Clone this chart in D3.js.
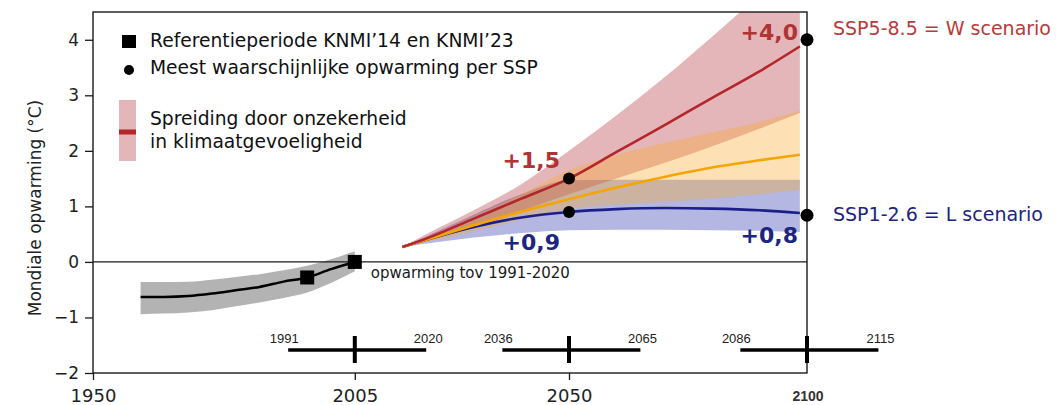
<!DOCTYPE html>
<html>
<head>
<meta charset="utf-8">
<script src="https://cdn.jsdelivr.net/npm/d3@7"></script>
<style>
  body { margin: 0; background: #fff; }
  svg { display: block; font-family: "DejaVu Sans", Verdana, sans-serif; }
</style>
</head>
<body>
<svg id="chart" width="1063" height="405"></svg>
<script>
// ---- Observed global warming (relative to 1991-2020), with spread ----
const histYears  = [1960, 1965, 1970, 1975, 1980, 1985, 1990, 1995, 2000, 2005];
const histMedian = [-0.63, -0.63, -0.615, -0.57, -0.51, -0.45, -0.355, -0.28, -0.13, 0.0];
const histLow    = [-0.94, -0.93, -0.91, -0.87, -0.80, -0.73, -0.65, -0.55, -0.38, -0.17];
const histHigh   = [-0.36, -0.36, -0.355, -0.32, -0.27, -0.22, -0.15, -0.07, 0.05, 0.19];

// Reference periods KNMI'14 (1981-2010) and KNMI'23 (1991-2020)
const refYears  = [1995, 2005];
const refValues = [-0.28, 0.0];

// ---- Projections per SSP ----
const projYears = [2015, 2020, 2030, 2040, 2050, 2060, 2070, 2080, 2090, 2098.5];
const ssp585Median = [0.27, 0.42, 0.78, 1.14, 1.50, 1.98, 2.46, 2.95, 3.43, 3.88];
const ssp585Low    = [0.27, 0.38, 0.62, 0.92, 1.22, 1.50, 1.78, 2.08, 2.40, 2.68];
const ssp585High   = [0.27, 0.50, 0.93, 1.40, 2.00, 2.64, 3.32, 4.05, 4.80, 5.40];
const ssp245Median = [0.27, 0.40, 0.66, 0.91, 1.13, 1.34, 1.53, 1.70, 1.83, 1.93];
const ssp245Low    = [0.27, 0.36, 0.55, 0.76, 0.95, 1.03, 1.08, 1.14, 1.22, 1.30];
const ssp245High   = [0.27, 0.44, 0.82, 1.22, 1.65, 1.93, 2.14, 2.33, 2.52, 2.72];
const ssp126Median = [0.27, 0.40, 0.63, 0.80, 0.90, 0.95, 0.97, 0.96, 0.93, 0.88];
const ssp126Low    = [0.27, 0.33, 0.44, 0.52, 0.57, 0.58, 0.58, 0.57, 0.56, 0.54];
const ssp126High   = [0.27, 0.46, 0.85, 1.22, 1.47, 1.48, 1.48, 1.48, 1.48, 1.48];

// Most likely warming at the scenario horizons
const keyYears  = [2050, 2100];
const ssp585Key = [1.5, 4.0];
const ssp126Key = [0.9, 0.84];

// 30-year climate periods around 2005, 2050 and 2100
const periodCenter = [2005, 2050, 2100];
const periodStart  = [1991, 2036, 2086];
const periodEnd    = [2020, 2065, 2115];

// Axis ticks
const xTickYears = [1950, 2005, 2050];
const xLastTick  = 2100;
const yTicks     = [-2, -1, 0, 1, 2, 3, 4];

// ---- Layout ----
const svg = d3.select("#chart");
const pLeft = 93, pRight = 807, pTop = 12, pBottom = 373;
const x = d3.scaleLinear().domain([1950, 2100]).range([pLeft, pRight]);
const y = d3.scaleLinear().domain([-2, 4.5]).range([pBottom, pTop]);

const col = {
  red: "#b3262b", redText: "#b03434", redLabel: "#b83a3a",
  orange: "#f5a500", navy: "#1b1f8a", navyText: "#1c2580",
  grey: "#b3b3b3", ink: "#1a1a1a"
};
// Translucent spreads: base colour and opacity
const spread = {
  red:    { fill: "rgb(180,40,50)",  op: 0.34 },
  orange: { fill: "rgb(250,170,40)", op: 0.35 },
  blue:   { fill: "rgb(40,50,170)",  op: 0.35 }
};

svg.append("defs").append("clipPath").attr("id", "plot")
  .append("rect").attr("x", pLeft).attr("y", pTop)
  .attr("width", pRight - pLeft).attr("height", pBottom - pTop);

const plot = svg.append("g").attr("clip-path", "url(#plot)");

const zip = (xs, lo, hi) => xs.map((v, i) => ({ year: v, lo: lo[i], hi: hi[i] }));
const pts = (xs, vs) => xs.map((v, i) => ({ year: v, value: vs[i] }));

const area = d3.area().curve(d3.curveMonotoneX)
  .x(d => x(d.year)).y0(d => y(d.lo)).y1(d => y(d.hi));
const line = d3.line().curve(d3.curveMonotoneX)
  .x(d => x(d.year)).y(d => y(d.value));

// Observed spread
plot.append("path").datum(zip(histYears, histLow, histHigh))
  .attr("d", area).attr("fill", col.grey);

// Projection spreads (SSP1-2.6 beneath, SSP2-4.5 on top)
[
  [ssp126Low, ssp126High, spread.blue],
  [ssp585Low, ssp585High, spread.red],
  [ssp245Low, ssp245High, spread.orange]
].forEach(([lo, hi, s]) => {
  plot.append("path").datum(zip(projYears, lo, hi))
    .attr("d", area).attr("fill", s.fill).attr("fill-opacity", s.op);
});

// Zero line
svg.append("line").attr("x1", pLeft).attr("x2", pRight)
  .attr("y1", y(0)).attr("y2", y(0)).attr("stroke", col.ink).attr("stroke-width", 1.3);

// Observed median
plot.append("path").datum(pts(histYears, histMedian))
  .attr("d", line).attr("fill", "none").attr("stroke", "#000").attr("stroke-width", 2.5);

// Projection medians
[
  [ssp126Median, col.navy],
  [ssp245Median, col.orange],
  [ssp585Median, col.red]
].forEach(([vals, c]) => {
  plot.append("path").datum(pts(projYears, vals))
    .attr("d", line).attr("fill", "none").attr("stroke", c).attr("stroke-width", 2.6);
});

// Frame
svg.append("rect").attr("x", pLeft).attr("y", pTop)
  .attr("width", pRight - pLeft).attr("height", pBottom - pTop)
  .attr("fill", "none").attr("stroke", col.ink).attr("stroke-width", 1.4);

// Reference squares
svg.selectAll(".ref").data(pts(refYears, refValues)).join("rect")
  .attr("x", d => x(d.year) - 7).attr("y", d => y(d.value) - 7)
  .attr("width", 14).attr("height", 14).attr("fill", "#000");

svg.append("text").attr("x", x(2005) + 16).attr("y", y(0) + 16)
  .attr("font-size", 15).attr("fill", col.ink).text("opwarming tov 1991-2020");

// Most likely warming dots and value labels
const fmt = v => "+" + d3.format(".1f")(v).replace(".", ",");
const keyDots = [
  ...pts(keyYears, ssp585Key).map(d => ({ ...d, color: col.redText, dy: [-11, 0] })),
  ...pts(keyYears, ssp126Key).map(d => ({ ...d, color: col.navyText, dy: [38, 28] }))
];
svg.selectAll(".dot").data(keyDots).join("circle")
  .attr("cx", d => x(d.year)).attr("cy", d => y(d.value))
  .attr("r", d => d.year === 2100 ? 6.5 : 6).attr("fill", "#000");
svg.selectAll(".val").data(keyDots).join("text")
  .attr("x", d => x(d.year) - 9)
  .attr("y", d => y(d.value) + d.dy[keyYears.indexOf(d.year)])
  .attr("text-anchor", "end").attr("font-weight", "bold").attr("font-size", 22)
  .attr("fill", d => d.color).text(d => fmt(d.value));

// Scenario names
svg.append("text").attr("x", 833).attr("y", y(ssp585Key[1]) - 5)
  .attr("font-size", 19).attr("fill", col.redLabel).text("SSP5-8.5 = W scenario");
svg.append("text").attr("x", 833).attr("y", y(ssp126Key[1]) + 6)
  .attr("font-size", 19).attr("fill", col.navyText).text("SSP1-2.6 = L scenario");

// Climate period markers
const periods = periodCenter.map((c, i) => ({ c, s: periodStart[i], e: periodEnd[i] }));
const pm = svg.append("g");
const barY = 350;
pm.selectAll(".h").data(periods).join("line")
  .attr("x1", d => x(d.s)).attr("x2", d => x(d.e)).attr("y1", barY).attr("y2", barY)
  .attr("stroke", "#000").attr("stroke-width", 3.5);
pm.selectAll(".v").data(periods).join("line")
  .attr("x1", d => x(d.c)).attr("x2", d => x(d.c)).attr("y1", barY - 14).attr("y2", barY + 13)
  .attr("stroke", "#000").attr("stroke-width", 4);
const yearLabels = periods.flatMap(d => [{ v: d.s, dx: -4 }, { v: d.e, dx: 2 }]);
pm.selectAll(".ys").data(yearLabels).join("text")
  .attr("x", d => x(d.v) + d.dx).attr("y", 343).attr("text-anchor", "middle")
  .attr("font-family", "Liberation Sans, Arial, sans-serif").attr("font-size", 13)
  .attr("fill", "#222").text(d => d.v);

// Axes
const yAxis = svg.append("g").attr("transform", `translate(${pLeft},0)`)
  .call(d3.axisLeft(y).tickValues(yTicks).tickFormat(d3.format("d")).tickSize(8).tickPadding(6));
yAxis.select(".domain").remove();
yAxis.selectAll("text").attr("font-size", 17).attr("font-family", "DejaVu Sans").attr("fill", "#222");
yAxis.selectAll("line").attr("stroke", col.ink).attr("stroke-width", 1.3);

const xAxis = svg.append("g").attr("transform", `translate(0,${pBottom})`)
  .call(d3.axisBottom(x).tickValues(xTickYears).tickFormat(d3.format("d")).tickSize(7).tickPadding(9));
xAxis.select(".domain").remove();
xAxis.selectAll("text").attr("font-size", 18).attr("font-family", "DejaVu Sans").attr("fill", "#222");
xAxis.selectAll("line").attr("stroke", col.ink).attr("stroke-width", 1.3);

svg.append("text").attr("x", x(xLastTick) + 1).attr("y", 401).attr("text-anchor", "middle")
  .attr("font-family", "Liberation Sans, Arial, sans-serif").attr("font-weight", "bold")
  .attr("font-size", 14).attr("fill", "#333").text(xLastTick);

svg.append("text").attr("transform", `translate(41,${208}) rotate(-90)`)
  .attr("text-anchor", "middle").attr("font-size", 17).attr("fill", "#222")
  .text("Mondiale opwarming (°C)");

// Legend
const lg = svg.append("g").attr("font-size", 18.7).attr("fill", "#111");
lg.append("rect").attr("x", 122).attr("y", 35).attr("width", 14).attr("height", 13).attr("fill", "#000");
lg.append("text").attr("x", 150).attr("y", 47).text("Referentieperiode KNMI\u201914 en KNMI\u201923");
lg.append("circle").attr("cx", 129).attr("cy", 70).attr("r", 5).attr("fill", "#000");
lg.append("text").attr("x", 150).attr("y", 74).text("Meest waarschijnlijke opwarming per SSP");
lg.append("rect").attr("x", 119).attr("y", 100).attr("width", 17).attr("height", 61)
  .attr("fill", spread.red.fill).attr("fill-opacity", spread.red.op);
lg.append("rect").attr("x", 119).attr("y", 129.5).attr("width", 17).attr("height", 5).attr("fill", col.red);
lg.append("text").attr("x", 150).attr("y", 125).text("Spreiding door onzekerheid");
lg.append("text").attr("x", 150).attr("y", 148).text("in klimaatgevoeligheid");
</script>
</body>
</html>
